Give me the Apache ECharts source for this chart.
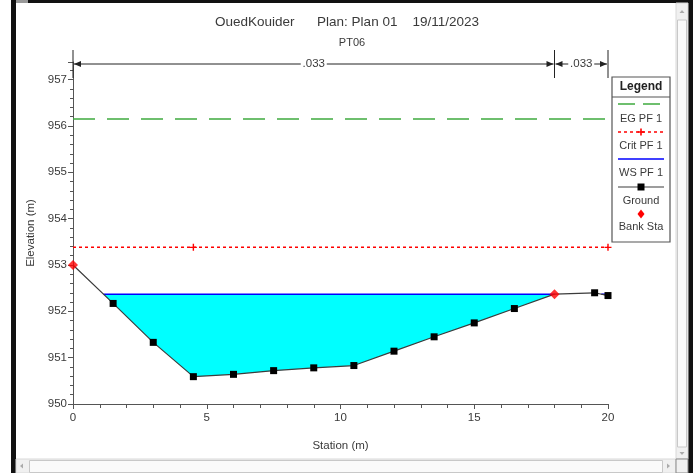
<!DOCTYPE html>
<html>
<head>
<meta charset="utf-8">
<script src="https://cdn.jsdelivr.net/npm/echarts@6/dist/echarts.min.js"></script>
<style>
html,body{margin:0;padding:0;background:#fff;}
#c{width:698px;height:473px;}
</style>
</head>
<body>
<div id="c"></div>
<script>
// ---- data ----
const stations = [0, 1.5, 3, 4.5, 6, 7.5, 9, 10.5, 12, 13.5, 15, 16.5, 18, 19.5, 20];
const groundElev = [953.0, 952.17, 951.33, 950.59, 950.64, 950.72, 950.78, 950.83, 951.14, 951.45, 951.75, 952.06, 952.37, 952.40, 952.34];
const bankStations = [0, 18];
const bankElev = [953.0, 952.37];
const wsElev = 952.37;
const egElev = 956.15;
const critElev = 953.38;
const critMarkStations = [4.5, 20];
const nBreaks = [0, 18, 20];
const nValues = ['.033', '.033'];
const yTicks = [950, 951, 952, 953, 954, 955, 956, 957];
const xTicks = [0, 5, 10, 15, 20];
const titleText = 'OuedKouider      Plan: Plan 01    19/11/2023';
const subTitleText = 'PT06';
const legendNames = ['EG PF 1', 'Crit PF 1', 'WS PF 1', 'Ground', 'Bank Sta'];

const FONT = '"Liberation Sans Narrow", "Liberation Sans", Arial, sans-serif';
const TXT = '#3a3a3a';

// wet polygons (ground below water surface)
function wetRegions() {
  const regs = [];
  let cur = null;
  for (let i = 0; i < stations.length - 1; i++) {
    const x0 = stations[i], x1 = stations[i + 1];
    const g0 = groundElev[i], g1 = groundElev[i + 1];
    const w0 = g0 < wsElev, w1 = g1 < wsElev;
    if (!cur && (w0 || w1)) {
      if (w0) { cur = [[x0, wsElev], [x0, g0]]; }
      else {
        const t = (wsElev - g0) / (g1 - g0);
        cur = [[x0 + t * (x1 - x0), wsElev]];
      }
    }
    if (cur) {
      if (w1) {
        cur.push([x1, g1]);
        if (i === stations.length - 2) { cur.push([x1, wsElev]); regs.push(cur); cur = null; }
      } else {
        const t = (wsElev - g0) / (g1 - g0);
        cur.push([x0 + t * (x1 - x0), wsElev]);
        regs.push(cur); cur = null;
      }
    }
  }
  return regs;
}
const regions = wetRegions();

const chart = echarts.init(document.getElementById('c'), null, {renderer: 'canvas'});

const plusPath = 'path://M4,0H6V4H10V6H6V10H4V6H0V4H4Z';
function plusPts(cx, cy, r, w) {
  return [[cx - w, cy - r], [cx + w, cy - r], [cx + w, cy - w], [cx + r, cy - w], [cx + r, cy + w], [cx + w, cy + w],
          [cx + w, cy + r], [cx - w, cy + r], [cx - w, cy + w], [cx - r, cy + w], [cx - r, cy - w], [cx - w, cy - w]];
}

const option = {
  backgroundColor: '#ffffff',
  animation: false,
  title: [
    {text: titleText, left: 342, top: 10, textAlign: 'center',
     textStyle: {fontFamily: FONT, fontSize: 13.5, fontWeight: 'normal', color: TXT}},
    {text: subTitleText, left: 347, top: 32, textAlign: 'center',
     textStyle: {fontFamily: FONT, fontSize: 11, fontWeight: 'normal', color: TXT}}
  ],
  grid: {left: 73, right: 90, top: 62, bottom: 69, containLabel: false},
  xAxis: {
    type: 'value', min: 0, max: 20, interval: 5,
    name: 'Station (m)', nameLocation: 'middle', nameGap: 36,
    nameTextStyle: {fontFamily: FONT, fontSize: 11.5, color: TXT},
    axisLine: {lineStyle: {color: '#555', width: 1}},
    axisTick: {show: true, length: 5, lineStyle: {color: '#555'}},
    minorTick: {show: true, splitNumber: 5, length: 4, lineStyle: {color: '#555'}},
    splitLine: {show: false},
    axisLabel: {fontFamily: FONT, fontSize: 11.5, color: TXT, margin: 8,
      formatter: v => xTicks.indexOf(v) >= 0 ? String(v) : ''}
  },
  yAxis: {
    type: 'value', min: 950, max: 957.38, interval: 1,
    name: 'Elevation (m)', nameLocation: 'middle', nameGap: 34, nameRotate: 90,
    nameTextStyle: {fontFamily: FONT, fontSize: 11.5, color: TXT},
    axisLine: {show: true, lineStyle: {color: '#555', width: 1}},
    axisTick: {show: true, length: 5, lineStyle: {color: '#555'}},
    minorTick: {show: true, splitNumber: 5, length: 3, lineStyle: {color: '#555'}},
    splitLine: {show: false},
    axisLabel: {fontFamily: FONT, fontSize: 11.5, color: TXT, margin: 6,
      formatter: v => yTicks.indexOf(v) >= 0 ? String(v) : ''}
  },
  series: [
    {
      name: 'water', type: 'custom', z: 1, silent: true,
      data: [0],
      renderItem: function (params, api) {
        const children = [];
        regions.forEach(r => {
          const pts = r.map(p => api.coord(p));
          children.push({type: 'polygon', shape: {points: pts}, style: {fill: '#00ffff', stroke: null}});
        });
        regions.forEach(r => {
          const a = api.coord(r[0]), b = api.coord(r[r.length - 1]);
          children.push({type: 'line', shape: {x1: a[0], y1: a[1], x2: b[0], y2: b[1]},
            style: {stroke: '#0000ff', lineWidth: 1.5}});
        });
        return {type: 'group', children: children};
      }
    },
    {
      name: 'EG PF 1', type: 'line', z: 3, symbol: 'none',
      data: [[stations[0], egElev], [stations[stations.length - 1], egElev]],
      lineStyle: {color: '#3faa3f', width: 1.6, type: [22, 12]}
    },
    {
      name: 'Crit PF 1', type: 'line', z: 3,
      data: [[stations[0], critElev]].concat(critMarkStations.map(s => ({value: [s, critElev], symbol: plusPath}))),
      symbol: 'none', symbolSize: 7,
      itemStyle: {color: '#ff0000'},
      lineStyle: {color: '#ff0000', width: 1.5, type: [3, 3]}
    },
    {
      name: 'Ground', type: 'line', z: 4,
      data: stations.map((s, i) => bankStations.indexOf(s) >= 0 ? {value: [s, groundElev[i]], symbol: 'none'} : [s, groundElev[i]]),
      symbol: 'rect', symbolSize: 7, showAllSymbol: true,
      itemStyle: {color: '#000000'},
      lineStyle: {color: '#3c3c3c', width: 1.2}
    },
    {
      name: 'Bank Sta', type: 'scatter', z: 5,
      data: bankStations.map((s, i) => [s, bankElev[i]]),
      symbol: 'diamond', symbolSize: 10,
      itemStyle: {color: '#ff0000'}
    }
  ]
};
chart.setOption(option);

// ---- annotations & chrome ----
function px(x, y) { return chart.convertToPixel({gridIndex: 0}, [x, y]); }
const g = [];
const nY = 64, nTop = 50, nBot = 78;
const nxs = nBreaks.map(b => px(b, 950)[0]);
nxs.forEach(x => g.push({type: 'line', shape: {x1: x, y1: nTop, x2: x, y2: nBot}, style: {stroke: '#222', lineWidth: 1}, z: 10}));
function arrowHead(x, dir) {
  return {type: 'polygon', shape: {points: [[x, nY], [x - dir * 7, nY - 3], [x - dir * 7, nY + 3]]}, style: {fill: '#222'}, z: 10};
}
for (let i = 0; i < nValues.length; i++) {
  const a = nxs[i] + 1, b = nxs[i + 1] - 1;
  const mid = (a + b) / 2;
  const halfGap = 13;
  g.push({type: 'line', shape: {x1: a, y1: nY, x2: mid - halfGap, y2: nY}, style: {stroke: '#222', lineWidth: 1}, z: 10});
  g.push({type: 'line', shape: {x1: mid + halfGap, y1: nY, x2: b, y2: nY}, style: {stroke: '#222', lineWidth: 1}, z: 10});
  g.push(arrowHead(a, -1));
  g.push(arrowHead(b, 1));
  g.push({type: 'text', x: mid, y: nY, style: {text: nValues[i], font: '11.5px ' + FONT, fill: TXT, align: 'center', verticalAlign: 'middle'}, z: 10});
}

// legend box
const lx = 612, lw = 58, ly = 77, lh = 165, lc = lx + lw / 2;
const LF = '11px ' + FONT;
g.push({type: 'rect', shape: {x: lx, y: ly, width: lw, height: lh}, style: {fill: '#fff', stroke: '#555', lineWidth: 1.2}, z: 20});
g.push({type: 'line', shape: {x1: lx, y1: ly + 20, x2: lx + lw, y2: ly + 20}, style: {stroke: '#555', lineWidth: 1.2}, z: 21});
g.push({type: 'text', x: lc, y: ly + 10, style: {text: 'Legend', font: 'bold 12px ' + FONT, fill: '#222', align: 'center', verticalAlign: 'middle'}, z: 21});
const l1 = lx + 6, l2 = lx + lw - 6;
// EG
g.push({type: 'line', shape: {x1: l1, y1: 104, x2: l2, y2: 104}, style: {stroke: '#3faa3f', lineWidth: 1.6, lineDash: [17, 8]}, z: 21});
g.push({type: 'text', x: lc, y: 119, style: {text: legendNames[0], font: LF, fill: TXT, align: 'center', verticalAlign: 'middle'}, z: 21});
// Crit
g.push({type: 'line', shape: {x1: l1, y1: 132, x2: l2, y2: 132}, style: {stroke: '#ff0000', lineWidth: 1.5, lineDash: [3, 3]}, z: 21});
g.push({type: 'polygon', shape: {points: plusPts(lc, 132, 3.5, 0.8)}, style: {fill: '#ff0000'}, z: 22});
g.push({type: 'text', x: lc, y: 146, style: {text: legendNames[1], font: LF, fill: TXT, align: 'center', verticalAlign: 'middle'}, z: 21});
// WS
g.push({type: 'line', shape: {x1: l1, y1: 159, x2: l2, y2: 159}, style: {stroke: '#0000ff', lineWidth: 1.5}, z: 21});
g.push({type: 'text', x: lc, y: 173, style: {text: legendNames[2], font: LF, fill: TXT, align: 'center', verticalAlign: 'middle'}, z: 21});
// Ground
g.push({type: 'line', shape: {x1: l1, y1: 187, x2: l2, y2: 187}, style: {stroke: '#3c3c3c', lineWidth: 1.2}, z: 21});
g.push({type: 'rect', shape: {x: lc - 3.5, y: 183.5, width: 7, height: 7}, style: {fill: '#000'}, z: 22});
g.push({type: 'text', x: lc, y: 201, style: {text: legendNames[3], font: LF, fill: TXT, align: 'center', verticalAlign: 'middle'}, z: 21});
// Bank
g.push({type: 'polygon', shape: {points: [[lc, 209.5], [lc + 3.5, 214], [lc, 218.5], [lc - 3.5, 214]]}, style: {fill: '#ff0000'}, z: 22});
g.push({type: 'text', x: lc, y: 227, style: {text: legendNames[4], font: LF, fill: TXT, align: 'center', verticalAlign: 'middle'}, z: 21});

// window chrome
g.push({type: 'rect', shape: {x: 11, y: 0, width: 682, height: 3}, style: {fill: '#111'}, z: 30});
g.push({type: 'rect', shape: {x: 16, y: 0, width: 12, height: 3}, style: {fill: '#999'}, z: 31});
g.push({type: 'rect', shape: {x: 11, y: 0, width: 5, height: 473}, style: {fill: '#111'}, z: 30});
g.push({type: 'rect', shape: {x: 688, y: 0, width: 5, height: 473}, style: {fill: '#111'}, z: 30});
// right scrollbar
g.push({type: 'rect', shape: {x: 676, y: 3, width: 12, height: 456}, style: {fill: '#f0f0f0', stroke: '#d8d8d8', lineWidth: 1}, z: 30});
g.push({type: 'rect', shape: {x: 677.5, y: 20, width: 9, height: 427}, style: {fill: '#fafafa', stroke: '#c8c8c8', lineWidth: 1}, z: 31});
g.push({type: 'polygon', shape: {points: [[679.5, 13], [684.5, 13], [682, 10]]}, style: {fill: '#aaa'}, z: 31});
g.push({type: 'polygon', shape: {points: [[679.5, 452], [684.5, 452], [682, 455]]}, style: {fill: '#aaa'}, z: 31});
// bottom scrollbar
g.push({type: 'rect', shape: {x: 16, y: 459, width: 660, height: 14}, style: {fill: '#f0f0f0', stroke: '#d8d8d8', lineWidth: 1}, z: 30});
g.push({type: 'rect', shape: {x: 29.5, y: 460.5, width: 633, height: 12}, style: {fill: '#fafafa', stroke: '#c8c8c8', lineWidth: 1}, z: 31});
g.push({type: 'polygon', shape: {points: [[23, 463.5], [23, 468.5], [20, 466]]}, style: {fill: '#aaa'}, z: 31});
g.push({type: 'polygon', shape: {points: [[667, 463.5], [667, 468.5], [670, 466]]}, style: {fill: '#aaa'}, z: 31});
g.push({type: 'rect', shape: {x: 676, y: 459, width: 12, height: 14}, style: {fill: '#f0f0f0', stroke: '#888', lineWidth: 1}, z: 31});

chart.setOption({graphic: g});
</script>
</body>
</html>
